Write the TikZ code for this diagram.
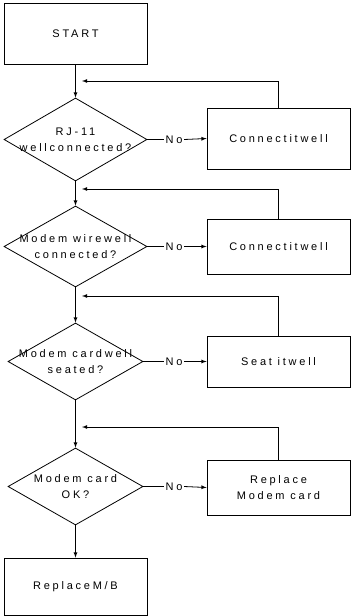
\documentclass[tikz,border=0pt]{standalone}
\usepackage{fontspec}
\setmainfont{Liberation Sans}[LetterSpace=25]
\usepackage{tikz}
\usetikzlibrary{shapes,arrows,positioning}

\tikzset{
	box/.style={draw, thick, rectangle, minimum width=143pt, align=center, inner sep=0pt},
	decision/.style={draw, thick, diamond, inner sep=0pt},
	dtext/.style={align=center, inner sep=0pt},
	nolabel/.style={inner sep=1.5pt},
	flow/.style={-latex, thick},
}

\begin{document}
\begin{tikzpicture}[x=1pt, y=-1pt, font=\fontsize{11}{16}\selectfont]
				\useasboundingbox (0,0) rectangle (351,616);
				% main column
				\node [box, minimum height=61pt] (start) at (75.5,33.5) {START};
				\node [decision, minimum width=143pt, minimum height=83pt] (rj) at (75.5,139.5) {};
				\node [decision, minimum width=143pt, minimum height=81pt] (wire) at (75.5,246.5) {};
				\node [decision, minimum width=135pt, minimum height=77pt] (seat) at (75.5,361.5) {};
				\node [decision, minimum width=135pt, minimum height=77pt] (card) at (75.5,486.5) {};
				\node [dtext] (rjtext) at (rj) {RJ-11\\wellconnected?};
				\node [dtext] (wiretext) at (wire) {Modem wirewell\\connected?};
				\node [dtext] (seattext) at (seat) {Modem cardwell\\seated?};
				\node [dtext] (cardtext) at (card) {Modem card\\OK?};
				\node [box, minimum height=57pt] (mb) at (75.5,586.5) {ReplaceM/B};
				% right column
				\node [box, minimum height=61pt] (fixrj) at (278.5,138.5) {Connectitwell};
				\node [box, minimum height=55pt] (fixwire) at (278.5,246.5) {Connectitwell};
				\node [box, minimum height=51pt] (fixseat) at (278.5,361.5) {Seat itwell};
				\node [box, minimum height=55pt, font=\fontsize{11}{15.5}\selectfont] (fixcard) at (278.5,487.5) {Replace\\Modem card};
				% No labels
				\node [nolabel] (no1) at (174,139.5) {No};
				\node [nolabel] (no2) at (174,246.5) {No};
				\node [nolabel] (no3) at (174,361.5) {No};
				\node [nolabel] (no4) at (174,486.5) {No};
				% return points
				\coordinate (back1) at (82,81);
				\coordinate (back2) at (82,189);
				\coordinate (back3) at (82,296);
				\coordinate (back4) at (82,427);
				% downward flow
				\draw [flow] (start) -- (rj);
				\draw [flow] (rj) -- (wire);
				\draw [flow] (wire) -- (seat);
				\draw [flow] (seat) -- (card);
				\draw [flow] (card) -- (mb);
				% No branches
				\draw [thick] (rj.east) -- (no1.west);
				\draw [flow] (no1.east) -- (fixrj.west);
				\draw [thick] (wire.east) -- (no2.west);
				\draw [flow] (no2.east) -- (fixwire.west);
				\draw [thick] (seat.east) -- (no3.west);
				\draw [flow] (no3.east) -- (fixseat.west);
				\draw [thick] (card.east) -- (no4.west);
				\draw [flow] (no4.east) -- (fixcard.west);
				% loops back
				\draw [flow] (fixrj.north) |- (back1);
				\draw [flow] (fixwire.north) |- (back2);
				\draw [flow] (fixseat.north) |- (back3);
				\draw [flow] (fixcard.north) |- (back4);
\end{tikzpicture}
\end{document}
